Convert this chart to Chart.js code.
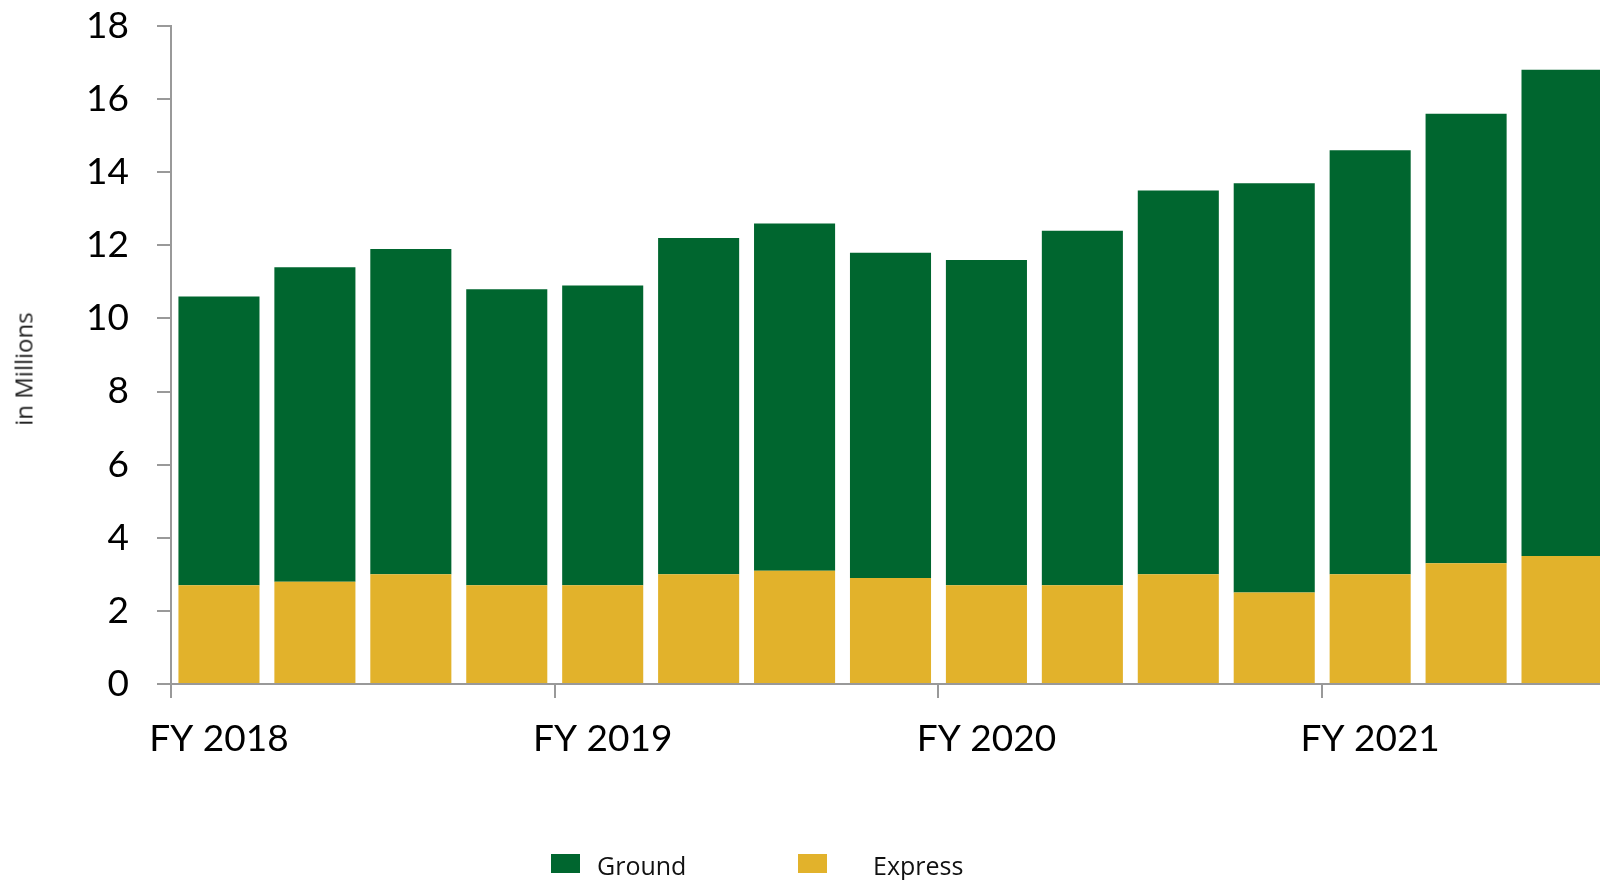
<!DOCTYPE html>
<html>
<head>
<meta charset="utf-8">
<script src="https://cdn.jsdelivr.net/npm/chart.js@4"></script>
<style>
    html, body { margin: 0; padding: 0; background: #fff; overflow: hidden; }
    #wrap { position: relative; width: 1640px; height: 880px; }
    #yTitle {
        position: absolute; left: 23px; top: 369px;
        transform: translate(-50%, -50%) rotate(-90deg);
        font: 24px "Open Sans", sans-serif; color: #222; white-space: nowrap;
    }
    .lg { position: absolute; font: 25px "Open Sans", sans-serif; color: #111; }
    .box { position: absolute; width: 29px; height: 19px; }
</style>
</head>
<body>
<div id="wrap">
    <canvas id="shipChart" width="1640" height="880"></canvas>
    <div id="yTitle">in Millions</div>
    <div class="box" style="left:551px; top:854px; background:#00662F"></div>
    <div class="lg" style="left:597px; top:848px">Ground</div>
    <div class="box" style="left:798px; top:854px; background:#E2B22B"></div>
    <div class="lg" style="left:873px; top:848px">Express</div>
</div>
<script>
const quarters = [
    "FY 2018 Q1", "FY 2018 Q2", "FY 2018 Q3", "FY 2018 Q4",
    "FY 2019 Q1", "FY 2019 Q2", "FY 2019 Q3", "FY 2019 Q4",
    "FY 2020 Q1", "FY 2020 Q2", "FY 2020 Q3", "FY 2020 Q4",
    "FY 2021 Q1", "FY 2021 Q2", "FY 2021 Q3",
];
const yearLabels = ["FY 2018", "FY 2019", "FY 2020", "FY 2021"];
const express = [2.7, 2.8, 3.0, 2.7, 2.7, 3.0, 3.1, 2.9, 2.7, 2.7, 3.0, 2.5, 3.0, 3.3, 3.5];
const ground = [7.9, 8.6, 8.9, 8.1, 8.2, 9.2, 9.5, 8.9, 8.9, 9.7, 10.5, 11.2, 11.6, 12.3, 13.3];

const axisGrey = "#999999";

new Chart(document.getElementById("shipChart"), {
    type: "bar",
    data: {
        labels: quarters,
        datasets: [
            {
                label: "Express",
                data: express,
                backgroundColor: "#E2B22B",
                categoryPercentage: 1,
                barPercentage: 0.845,
            },
            {
                label: "Ground",
                data: ground,
                backgroundColor: "#00662F",
                categoryPercentage: 1,
                barPercentage: 0.845,
            },
        ],
    },
    options: {
        responsive: false,
        animation: false,
        layout: { padding: { top: 26, right: 30, left: 0, bottom: 0 } },
        plugins: {
            legend: { display: false },
            tooltip: { enabled: false },
        },
        scales: {
            x: {
                stacked: true,
                offset: true,
                afterFit: (s) => { s.height = 196; s.paddingLeft = 0; s.paddingRight = 0; },
                border: { color: axisGrey, width: 2 },
                grid: {
                    offset: true,
                    drawOnChartArea: false,
                    tickLength: 14,
                    lineWidth: 2,
                    color: (ctx) => (ctx.index % 4 === 0 ? axisGrey : "transparent"),
                },
                ticks: {
                    autoSkip: false,
                    maxRotation: 0,
                    padding: 19,
                    color: "#000",
                    font: { family: "Lato", size: 37 },
                    callback: (v, i) => (i % 4 === 0 ? yearLabels[i / 4] : ""),
                },
            },
            y: {
                stacked: true,
                min: 0,
                max: 18,
                afterFit: (s) => { s.width = 171; s.paddingTop = 0; s.paddingBottom = 0; },
                border: { color: axisGrey, width: 2 },
                grid: {
                    drawOnChartArea: false,
                    tickLength: 14,
                    lineWidth: 2,
                    color: axisGrey,
                },
                ticks: {
                    stepSize: 2,
                    padding: 28,
                    color: "#000",
                    font: { family: "Lato", size: 37 },
                },
            },
        },
    },
});
</script>
</body>
</html>
